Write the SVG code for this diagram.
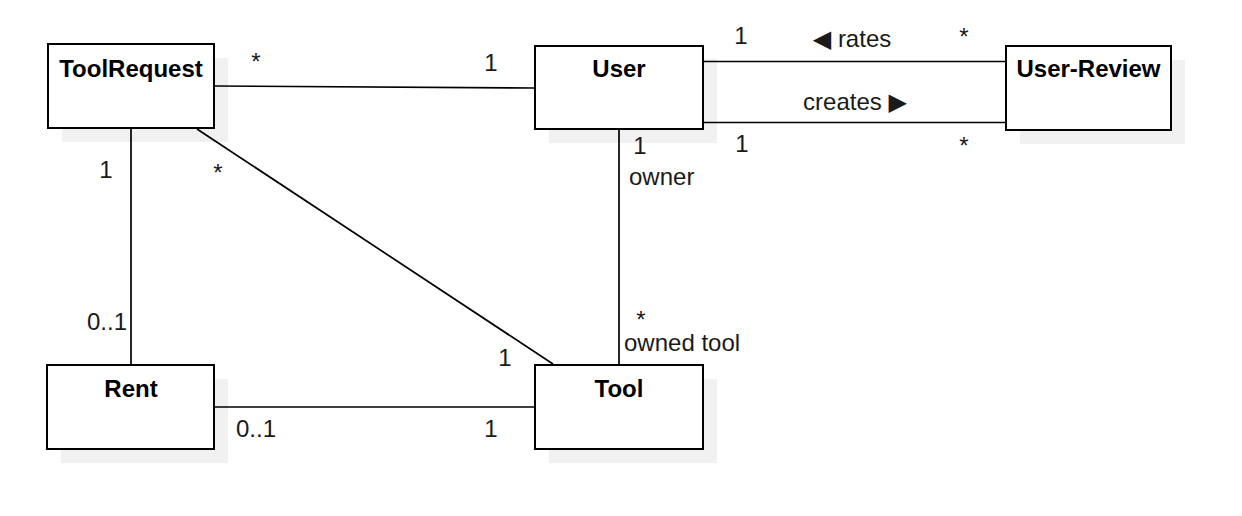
<svg xmlns="http://www.w3.org/2000/svg" width="1242" height="516" viewBox="0 0 1242 516">
<style>
.shadow{fill:#f1f1f1;stroke:none}
.box{fill:#ffffff;stroke:#000000;stroke-width:2}
.title{font-family:"Liberation Sans","DejaVu Sans",sans-serif;font-weight:bold;font-size:24px;fill:#000;text-anchor:middle}
.lbl{font-family:"Liberation Sans","DejaVu Sans",sans-serif;font-size:24px;fill:#1a1a1a}
.mid{text-anchor:middle}
.end{text-anchor:end}
.conn line{stroke:#000;stroke-width:1.7;fill:none}
</style>
<rect width="1242" height="516" fill="#ffffff"/>
<g id="shadows">
<rect class="shadow" x="62" y="58" width="166" height="84"/>
<rect class="shadow" x="549" y="59" width="168" height="84"/>
<rect class="shadow" x="1020" y="60" width="165" height="84"/>
<rect class="shadow" x="61" y="379" width="167" height="84"/>
<rect class="shadow" x="549" y="379" width="168" height="84"/>
</g>
<g id="connectors" class="conn">
<line x1="215" y1="86" x2="534" y2="88"/>
<line x1="131" y1="129" x2="131" y2="364"/>
<line x1="197" y1="129" x2="553" y2="364"/>
<line x1="619" y1="130" x2="619" y2="364"/>
<line x1="704" y1="61.5" x2="1005" y2="61.5"/>
<line x1="704" y1="122.5" x2="1005" y2="122.5"/>
<line x1="215" y1="407" x2="534" y2="407"/>
</g>
<g id="ToolRequest">
<rect class="box" x="48" y="44" width="166" height="84"/>
<text class="title" x="131" y="77">ToolRequest</text>
</g>
<g id="User">
<rect class="box" x="535" y="46" width="168" height="83"/>
<text class="title" x="619" y="77">User</text>
</g>
<g id="User-Review">
<rect class="box" x="1006" y="46" width="165" height="84"/>
<text class="title" x="1088.5" y="77">User-Review</text>
</g>
<g id="Rent">
<rect class="box" x="47" y="365" width="167" height="84"/>
<text class="title" x="131" y="397">Rent</text>
</g>
<g id="Tool">
<rect class="box" x="535" y="365" width="168" height="84"/>
<text class="title" x="619" y="397">Tool</text>
</g>
<g id="labels">
<text class="lbl mid" x="256" y="70">*</text>
<text class="lbl mid" x="491" y="71">1</text>
<text class="lbl mid" x="106" y="178">1</text>
<text class="lbl mid" x="218" y="181">*</text>
<text class="lbl end" x="127" y="330">0..1</text>
<text class="lbl mid" x="505" y="366">1</text>
<text class="lbl" x="236" y="437">0..1</text>
<text class="lbl mid" x="491" y="437">1</text>
<text class="lbl mid" x="640" y="154">1</text>
<text class="lbl" x="629" y="185">owner</text>
<text class="lbl mid" x="641" y="328">*</text>
<text class="lbl" x="624" y="351">owned tool</text>
<text class="lbl mid" x="741" y="44">1</text>
<text class="lbl mid" x="852" y="47">◀ rates</text>
<text class="lbl mid" x="964" y="45">*</text>
<text class="lbl mid" x="855" y="110">creates ▶</text>
<text class="lbl mid" x="742" y="152">1</text>
<text class="lbl mid" x="964" y="154">*</text>
</g>
</svg>
